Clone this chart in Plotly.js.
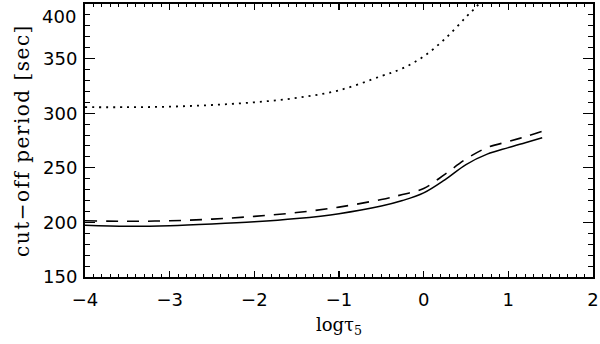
<!DOCTYPE html>
<html>
<head>
<meta charset="utf-8">
<script src="https://cdn.plot.ly/plotly-3.0.1.min.js"></script>
<style>
html,body{margin:0;padding:0;background:#fff;}
#chart{width:600px;height:344px;}
</style>
</head>
<body>
<div id="chart"></div>
<script>
// log tau_5 grid
const logTau = [-4, -3.5, -3, -2.5, -2, -1.5, -1, -0.5, -0.25, 0, 0.25, 0.5, 0.75, 1.0, 1.2, 1.4];
const solidPeriod = [197.5, 196.5, 197, 198.5, 200.5, 203.5, 208, 215, 220, 227, 239, 253, 262.5, 268.5, 273, 277.5];
const dashedPeriod = [201.5, 201, 201.5, 203, 205.5, 209, 214, 221, 225.5, 231, 244, 258, 268.5, 274, 278.5, 283.5];
const dottedTau = [-4, -3.5, -3, -2.5, -2, -1.5, -1, -0.5, -0.25, 0, 0.25, 0.5, 0.65, 0.75];
const dottedPeriod = [305.5, 305.5, 306, 307.5, 310, 314, 321, 334, 341, 352, 368, 388, 400, 412];

const yTickVals = [150, 200, 250, 300, 350, 400];
const yTickText = ['150', '200', '250', '300', '350', '400'];
const xTickVals = [-4, -3, -2, -1, 0, 1, 2];

const traces = [
  {x: logTau, y: solidPeriod, mode: 'lines', line: {color: '#000', width: 1.5, shape: 'spline', dash: 'solid'}},
  {x: logTau, y: dashedPeriod, mode: 'lines', line: {color: '#000', width: 1.6, shape: 'spline', dash: '12px,9px'}},
  {x: dottedTau, y: dottedPeriod, mode: 'lines', line: {color: '#000', width: 1.8, shape: 'spline', dash: '2px,5px'}}
];

// the top label (400) sits at the frame edge; in the reference it is nudged down inside the window,
// so it is drawn as an annotation while the other labels come from the axis
const axisYVals = yTickVals.slice(0, -1);
const axisYText = yTickText.slice(0, -1);

const tickFont = {family: 'DejaVu Sans', size: 18, color: '#000'};

const layout = {
  width: 600, height: 344,
  margin: {l: 85, r: 7, t: 4, b: 67},
  paper_bgcolor: '#fff', plot_bgcolor: '#fff',
  showlegend: false,
  xaxis: {
    range: [-4, 2], tickvals: xTickVals, ticks: 'inside', ticklen: 6, tickwidth: 1.2, tickcolor: '#000',
    showline: true, linewidth: 2, linecolor: '#000', mirror: 'allticks', showgrid: false, zeroline: false,
    minor: {dtick: 0.1, ticks: 'inside', ticklen: 3, tickwidth: 1, tickcolor: '#000', showgrid: false},
    tickfont: tickFont, ticklabelstandoff: 5,
    title: {text: 'logτ<sub>5</sub>', font: {family: 'DejaVu Serif', size: 18, color: '#000'}, standoff: 10}
  },
  yaxis: {
    range: [150, 400], tickvals: axisYVals, ticktext: axisYText, ticks: 'inside', ticklen: 10, tickwidth: 1.2, tickcolor: '#000',
    showline: true, linewidth: 2, linecolor: '#000', mirror: 'allticks', showgrid: false, zeroline: false,
    minor: {dtick: 10, ticks: 'inside', ticklen: 5, tickwidth: 1, tickcolor: '#000', showgrid: false},
    tickfont: tickFont, ticklabelstandoff: 2,
    title: {text: 'cut\u2212off period [sec]', font: {family: 'DejaVu Serif', size: 20, color: '#000'}, standoff: 8}
  },
  annotations: [{
    xref: 'paper', yref: 'paper', x: 0, y: 1, xanchor: 'right', yanchor: 'top',
    xshift: -7, yshift: 0, showarrow: false, text: yTickText[yTickText.length - 1], font: tickFont
  }]
};

Plotly.newPlot('chart', traces, layout, {displayModeBar: false, staticPlot: true}).then(function (gd) {
  const t = gd.querySelector('.ytitle');
  if (t) { t.style.letterSpacing = '1.5px'; }
});
</script>
</body>
</html>
